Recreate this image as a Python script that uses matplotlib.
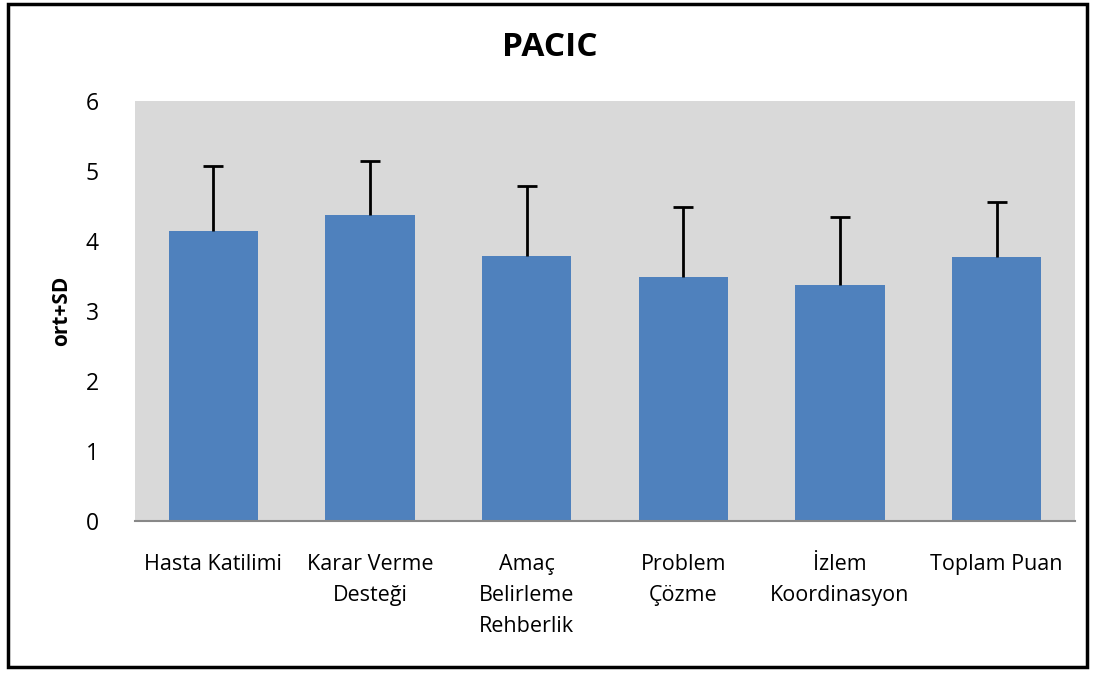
import matplotlib.pyplot as plt
from matplotlib.patches import Rectangle

plt.rcParams['font.family'] = ['Open Sans', 'DejaVu Sans']

categories = ['Hasta Katilimi', 'Karar Verme\nDesteği', 'Amaç\nBelirleme\nRehberlik',
              'Problem\nÇözme', 'İzlem\nKoordinasyon', 'Toplam Puan']
means = [4.14, 4.37, 3.78, 3.49, 3.37, 3.77]
sd = [0.93, 0.77, 1.00, 1.00, 0.97, 0.79]

fig = plt.figure(figsize=(10.95, 6.75), dpi=100)
ax = fig.add_axes([135 / 1095, 1 - 521 / 675, 940 / 1095, 420 / 675])
ax.set_facecolor('#D9D9D9')

x = range(len(categories))
ax.bar(x, means, width=0.57, color='#4F81BD', zorder=2)
eb = ax.errorbar(x, means, yerr=[[0] * len(sd), sd], fmt='none', ecolor='black',
                 elinewidth=2, capsize=7, capthick=2, zorder=3)
# only the upper cap
eb[1][0].set_visible(False)

ax.set_xlim(-0.5, len(categories) - 0.5)
ax.set_ylim(0, 6)
ax.set_yticks(range(0, 7))
ax.set_xticks(list(x))
ax.set_xticklabels(categories, fontsize=15.5, linespacing=1.62, va='top')
ax.tick_params(axis='x', length=0, pad=24)
ax.tick_params(axis='y', length=0, pad=26, labelsize=16.5)

for s in ['top', 'right', 'left']:
    ax.spines[s].set_visible(False)
ax.spines['bottom'].set_color('#888888')
ax.spines['bottom'].set_linewidth(1.5)

ax.set_ylabel('ort+SD', fontsize=15, fontweight='bold', labelpad=10)
fig.text(550 / 1095, 1 - 48 / 675, 'PACIC', fontsize=24, fontweight='bold',
         ha='center', va='center')

fig.patches.append(Rectangle((8 / 1095, 1 - 667 / 675), 1079 / 1095, 663 / 675,
                             transform=fig.transFigure, fill=False,
                             edgecolor='black', linewidth=2.5))

fig.savefig('out.png', dpi=100)
